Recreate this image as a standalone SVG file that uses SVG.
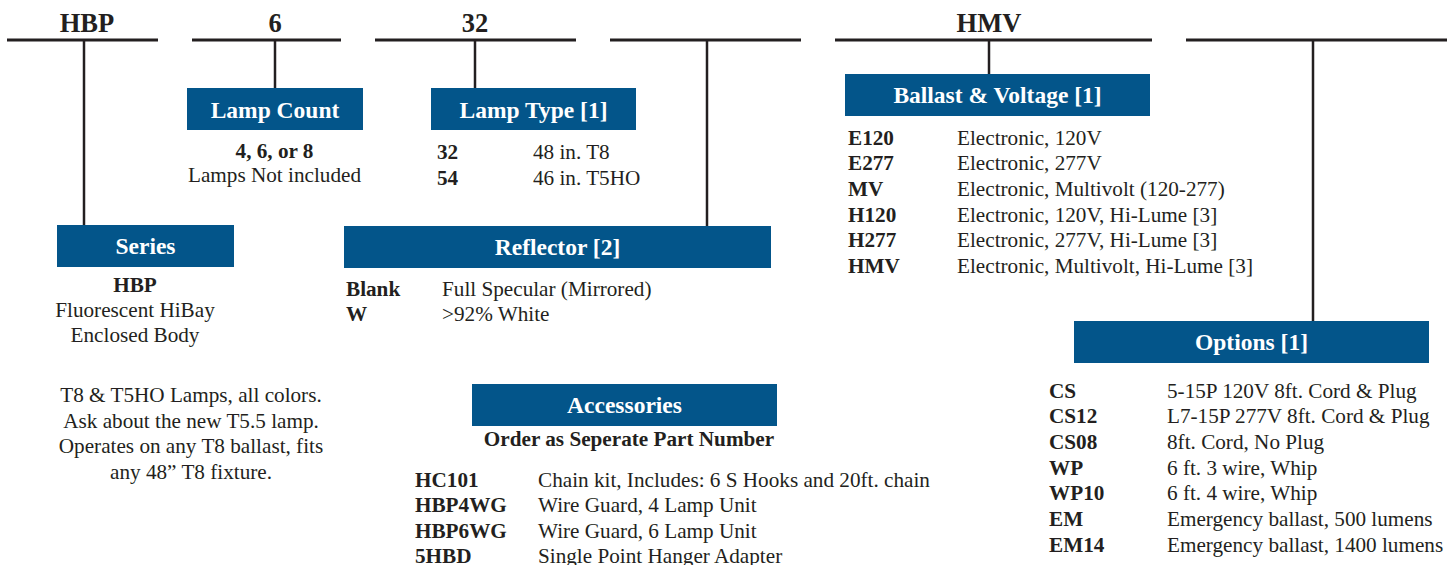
<svg xmlns="http://www.w3.org/2000/svg" width="1452" height="565" viewBox="0 0 1452 565">
<style>
text{font-family:"Liberation Serif","Times New Roman",serif;fill:#231f20}
.hd{font-size:26.5px;font-weight:bold;text-anchor:middle}
.box{fill:#03558a}
.bt{font-size:23.5px;font-weight:bold;fill:#ffffff;text-anchor:middle}
.b{font-size:21.2px;font-weight:bold}
.r{font-size:21.2px}
.c{text-anchor:middle}
.ln{stroke:#231f20;stroke-width:3;fill:none}
.st{stroke:#231f20;stroke-width:2.5;fill:none}
</style>
<rect width="1452" height="565" fill="#ffffff"/>
<g id="connectors">
<line class="ln" x1="7" y1="40" x2="158" y2="40"/>
<line class="ln" x1="192" y1="40" x2="341" y2="40"/>
<line class="ln" x1="375" y1="40" x2="576" y2="40"/>
<line class="ln" x1="610" y1="40" x2="801" y2="40"/>
<line class="ln" x1="835" y1="40" x2="1152" y2="40"/>
<line class="ln" x1="1186" y1="40" x2="1447" y2="40"/>
<line class="st" x1="84" y1="40" x2="84" y2="226"/>
<line class="st" x1="275" y1="40" x2="275" y2="88"/>
<line class="st" x1="475" y1="40" x2="475" y2="88"/>
<line class="st" x1="707" y1="40" x2="707" y2="227"/>
<line class="st" x1="989" y1="40" x2="989" y2="74"/>
<line class="st" x1="1313" y1="40" x2="1313" y2="321"/>
</g>
<g id="headers">
<text class="hd" x="87" y="32">HBP</text>
<text class="hd" x="275" y="32">6</text>
<text class="hd" x="475" y="32">32</text>
<text class="hd" x="989" y="32">HMV</text>
</g>
<g id="series">
<rect class="box" x="57" y="225" width="177" height="42"/>
<text class="bt" x="145.5" y="254">Series</text>
<text class="b c" x="135" y="292">HBP</text>
<text class="r c" x="135" y="317">Fluorescent HiBay</text>
<text class="r c" x="135" y="342">Enclosed Body</text>
<text class="r c" x="191" y="402">T8 &amp; T5HO Lamps, all colors.</text>
<text class="r c" x="191" y="428">Ask about the new T5.5 lamp.</text>
<text class="r c" x="191" y="453">Operates on any T8 ballast, fits</text>
<text class="r c" x="191" y="479">any 48” T8 fixture.</text>
</g>
<g id="lamp-count">
<rect class="box" x="187" y="88" width="176" height="42"/>
<text class="bt" x="275" y="118">Lamp Count</text>
<text class="b c" x="274.5" y="158">4, 6, or 8</text>
<text class="r c" x="274.5" y="182">Lamps Not included</text>
</g>
<g id="lamp-type">
<rect class="box" x="431" y="88" width="205" height="42"/>
<text class="bt" x="533.5" y="118">Lamp Type [1]</text>
<text class="b" x="437" y="158.5">32</text>
<text class="r" x="533" y="158.5">48 in. T8</text>
<text class="b" x="437" y="184.5">54</text>
<text class="r" x="533" y="184.5">46 in. T5HO</text>
</g>
<g id="reflector">
<rect class="box" x="344" y="226" width="427" height="42"/>
<text class="bt" x="557.5" y="255">Reflector [2]</text>
<text class="b" x="346" y="296">Blank</text>
<text class="r" x="442" y="296">Full Specular (Mirrored)</text>
<text class="b" x="346" y="321">W</text>
<text class="r" x="442" y="321">&gt;92% White</text>
</g>
<g id="ballast-voltage">
<rect class="box" x="845" y="74" width="305" height="42"/>
<text class="bt" x="997.5" y="103">Ballast &amp; Voltage [1]</text>
<text class="b" x="848" y="144.5">E120</text>
<text class="r" x="957" y="144.5">Electronic, 120V</text>
<text class="b" x="848" y="170.2">E277</text>
<text class="r" x="957" y="170.2">Electronic, 277V</text>
<text class="b" x="848" y="195.9">MV</text>
<text class="r" x="957" y="195.9">Electronic, Multivolt (120-277)</text>
<text class="b" x="848" y="221.6">H120</text>
<text class="r" x="957" y="221.6">Electronic, 120V, Hi-Lume [3]</text>
<text class="b" x="848" y="247.3">H277</text>
<text class="r" x="957" y="247.3">Electronic, 277V, Hi-Lume [3]</text>
<text class="b" x="848" y="273">HMV</text>
<text class="r" x="957" y="273">Electronic, Multivolt, Hi-Lume [3]</text>
</g>
<g id="options">
<rect class="box" x="1074" y="321" width="355" height="42"/>
<text class="bt" x="1251.5" y="350">Options [1]</text>
<text class="b" x="1049" y="397.5">CS</text>
<text class="r" x="1167" y="397.5">5-15P 120V 8ft. Cord &amp; Plug</text>
<text class="b" x="1049" y="423.2">CS12</text>
<text class="r" x="1167" y="423.2">L7-15P 277V 8ft. Cord &amp; Plug</text>
<text class="b" x="1049" y="448.9">CS08</text>
<text class="r" x="1167" y="448.9">8ft. Cord, No Plug</text>
<text class="b" x="1049" y="474.6">WP</text>
<text class="r" x="1167" y="474.6">6 ft. 3 wire, Whip</text>
<text class="b" x="1049" y="500.3">WP10</text>
<text class="r" x="1167" y="500.3">6 ft. 4 wire, Whip</text>
<text class="b" x="1049" y="526">EM</text>
<text class="r" x="1167" y="526">Emergency ballast, 500 lumens</text>
<text class="b" x="1049" y="551.7">EM14</text>
<text class="r" x="1167" y="551.7">Emergency ballast, 1400 lumens</text>
</g>
<g id="accessories">
<rect class="box" x="472" y="384" width="305" height="42"/>
<text class="bt" x="624.5" y="413">Accessories</text>
<text class="b c" x="629" y="446">Order as Seperate Part Number</text>
<text class="b" x="415" y="486.5">HC101</text>
<text class="r" x="538" y="486.5">Chain kit, Includes: 6 S Hooks and 20ft. chain</text>
<text class="b" x="415" y="512">HBP4WG</text>
<text class="r" x="538" y="512">Wire Guard, 4 Lamp Unit</text>
<text class="b" x="415" y="537.5">HBP6WG</text>
<text class="r" x="538" y="537.5">Wire Guard, 6 Lamp Unit</text>
<text class="b" x="415" y="562.5">5HBD</text>
<text class="r" x="538" y="562.5">Single Point Hanger Adapter</text>
</g>
</svg>
